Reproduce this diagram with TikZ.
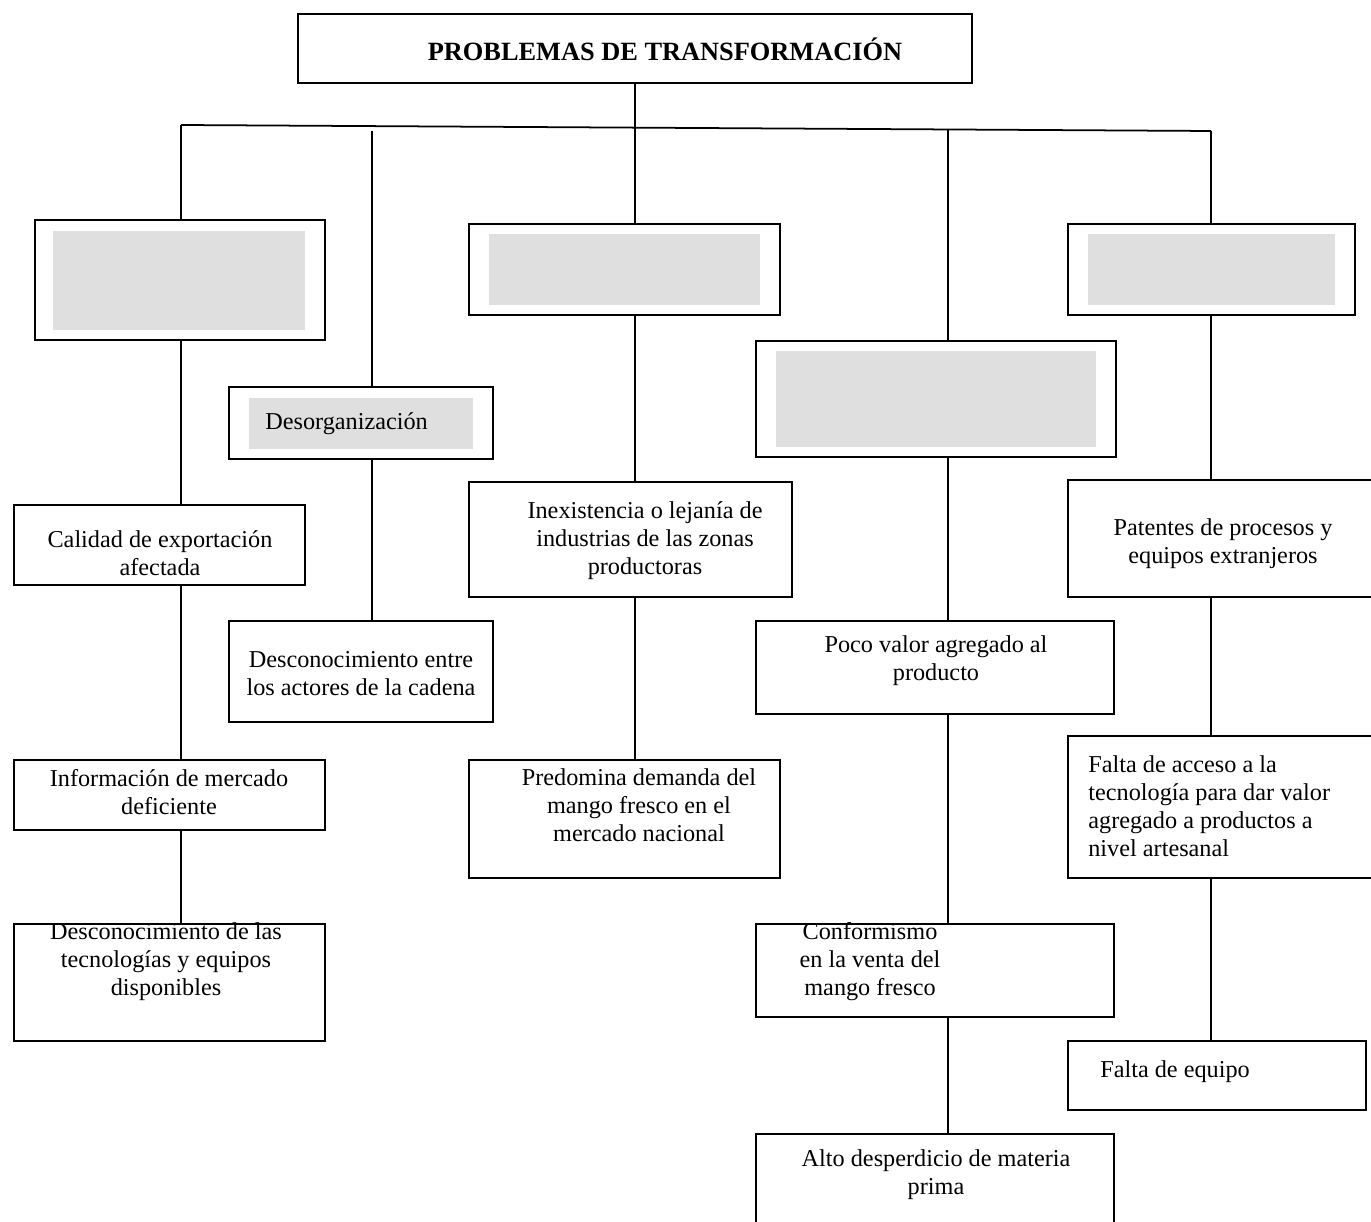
\documentclass[tikz,border=0pt]{standalone}
\usepackage{fontspec}
\setmainfont{Liberation Serif}
\usetikzlibrary{fit}
\definecolor{gris}{RGB}{223,223,223}

\begin{document}
\begin{tikzpicture}[x=0.02cm, y=-0.02cm,
    caja/.style={draw, line width=1pt, inner sep=0pt},
    fondo/.style={fill=gris, inner sep=0pt},
    texto/.style={inner sep=0pt, align=center, font=\fontsize{13.8}{15.9}\selectfont},
    linea/.style={line width=1pt}]
        \useasboundingbox (0,0) rectangle (1371,1222);

        \node[caja, fit={(298,14) (972,83)}] (titulo) {};
        \node[texto, font=\fontsize{15}{18}\selectfont\bfseries] (ttitulo) at (665,49) {PROBLEMAS DE TRANSFORMACIÓN};

        \coordinate (hL) at (181,125);
        \coordinate (hR) at (1211,131);
        \coordinate (v2) at (372,131);
        \coordinate (v4) at (948,129);
        \draw[linea] (hL) -- (hR);

        \node[caja, fit={(35,220) (325,340)}] (a1) {};
        \node[fondo, fit={(53,231) (305,330)}] (ga1) {};
        \node[caja, fit={(14,505) (305,585)}] (a2) {};
        \node[texto] (ta2) at (160,553) {Calidad de exportación\\afectada};
        \node[caja, fit={(14,760) (325,830)}] (a3) {};
        \node[texto] (ta3) at (169,792) {Información de mercado\\deficiente};
        \node[caja, fit={(14,924) (325,1041)}] (a4) {};
        \node[texto] (ta4) at (166,962) {Desconocimiento de las\\tecnologías y equipos\\disponibles};

        \node[caja, fit={(229,387) (493,459)}] (b1) {};
        \node[fondo, fit={(249,398) (473,449)}] (gb1) {};
        \node[texto, anchor=west] (tb1) at (265,424) {Desorganización};
        \node[caja, fit={(229,621) (493,722)}] (b2) {};
        \node[texto] (tb2) at (361,674) {Desconocimiento entre\\los actores de la cadena};

        \node[caja, fit={(469,224) (780,315)}] (c1) {};
        \node[fondo, fit={(489,234) (760,305)}] (gc1) {};
        \node[caja, fit={(469,482) (792,597)}] (c2) {};
        \node[texto] (tc2) at (645,541) {Inexistencia o lejanía de\\industrias de las zonas\\productoras};
        \node[caja, fit={(469,760) (780,878)}] (c3) {};
        \node[texto] (tc3) at (639,805) {Predomina demanda del\\mango fresco en el\\mercado nacional};

        \node[caja, fit={(756,341) (1116,457)}] (d1) {};
        \node[fondo, fit={(776,351) (1096,447)}] (gd1) {};
        \node[caja, fit={(756,621) (1114,714)}] (d2) {};
        \node[texto] (td2) at (936,661) {Poco valor agregado al\\producto};
        \node[caja, fit={(756,924) (1114,1017)}] (d3) {};
        \node[texto] (td3) at (870,962) {Conformismo\\en la venta del\\mango fresco};
        \node[caja, fit={(756,1134) (1114,1240)}] (d4) {};
        \node[texto] (td4) at (936,1175) {Alto desperdicio de materia\\prima};

        \node[caja, fit={(1068,224) (1355,315)}] (e1) {};
        \node[fondo, fit={(1088,234) (1335,305)}] (ge1) {};
        \node[caja, fit={(1068,480) (1380,597)}] (e2) {};
        \node[texto] (te2) at (1223,544) {Patentes de procesos y\\equipos extranjeros};
        \node[caja, fit={(1068,736) (1380,878)}] (e3) {};
        \node[texto, anchor=west, align=left] (te3) at (1088,806) {Falta de acceso a la\\tecnología para dar valor\\agregado a productos a\\nivel artesanal};
        \node[caja, fit={(1068,1041) (1366,1110)}] (e4) {};
        \node[texto] (te4) at (1175,1072) {Falta de equipo};

        \draw[linea] (hL) -- (hL |- a1.north);
        \draw[linea] (hL |- a1.south) -- (hL |- a2.north);
        \draw[linea] (hL |- a2.south) -- (hL |- a3.north);
        \draw[linea] (hL |- a3.south) -- (hL |- a4.north);

        \draw[linea] (v2) -- (v2 |- b1.north);
        \draw[linea] (v2 |- b1.south) -- (v2 |- b2.north);

        \draw[linea] (titulo.south) -- (titulo.south |- c1.north);
        \draw[linea] (titulo.south |- c1.south) -- (titulo.south |- c2.north);
        \draw[linea] (titulo.south |- c2.south) -- (titulo.south |- c3.north);

        \draw[linea] (v4) -- (v4 |- d1.north);
        \draw[linea] (v4 |- d1.south) -- (v4 |- d2.north);
        \draw[linea] (v4 |- d2.south) -- (v4 |- d3.north);
        \draw[linea] (v4 |- d3.south) -- (v4 |- d4.north);

        \draw[linea] (hR) -- (hR |- e1.north);
        \draw[linea] (hR |- e1.south) -- (hR |- e2.north);
        \draw[linea] (hR |- e2.south) -- (hR |- e3.north);
        \draw[linea] (hR |- e3.south) -- (hR |- e4.north);
\end{tikzpicture}
\end{document}
